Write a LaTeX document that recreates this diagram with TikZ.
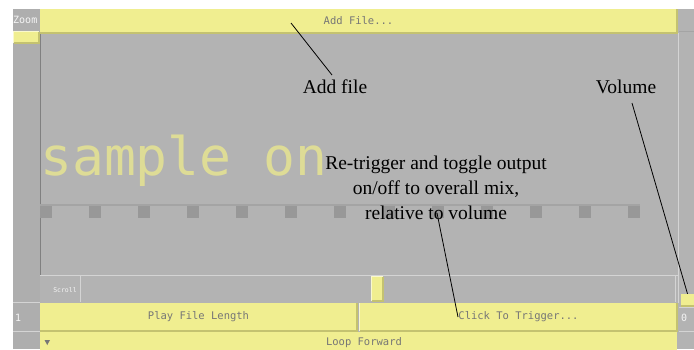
\documentclass[tikz,border=0pt]{standalone}
\usepackage{fontspec}
\setmainfont{Liberation Serif}
\newfontfamily\monof{DejaVu Sans Mono}
\definecolor{bg}{RGB}{179,179,179}
\definecolor{leftcol}{RGB}{174,174,174}
\definecolor{yel}{RGB}{240,238,144}
\definecolor{yeldark}{RGB}{196,194,112}
\definecolor{yellight}{RGB}{250,249,205}
\definecolor{samp}{RGB}{222,220,150}
\definecolor{tick}{RGB}{152,152,152}
\definecolor{tickline}{RGB}{164,164,164}
\definecolor{btntext}{RGB}{118,118,118}
\definecolor{darkedge}{RGB}{128,128,128}
\definecolor{lightedge}{RGB}{212,212,212}
\definecolor{labtext}{RGB}{245,245,245}
\begin{document}
\begin{tikzpicture}[x=1pt,y=-1pt,
  ybtn/.style={fill=yel, draw=none, inner sep=0pt, font=\monof\fontsize{10.5}{12}\selectfont, text=btntext},
  glab/.style={inner sep=0pt, font=\monof\fontsize{10}{12}\selectfont, text=labtext},
  ann/.style={inner sep=0pt, font=\fontsize{19.5}{25}\selectfont, text=black, align=center},
  lead/.style={draw=black, line width=0.8pt},
  tickbox/.style={fill=tick, draw=none, inner sep=0pt, minimum width=12pt, minimum height=12pt},
  bevdark/.style={draw=yeldark, line width=1.5pt},
  bevlight/.style={draw=yellight, line width=1pt}
]
\useasboundingbox (0,0) rectangle (694,349);
\fill[white] (0,0) rectangle (694,349);
\fill[bg] (13,9) rectangle (694,349);
\fill[leftcol] (13,9) rectangle (40,349);
% main area borders
\draw[darkedge, line width=1pt] (40.5,33) -- (40.5,275);
\draw[lightedge, line width=1pt] (678.5,33) -- (678.5,303);
\draw[tickline, line width=1pt] (679,31) -- (694,31);
\draw[lightedge, line width=1pt] (40,275.5) -- (678,275.5);
% scroll row
\draw[lightedge, line width=1pt] (80.5,276) -- (80.5,302);
\draw[lightedge, line width=1pt] (675.5,276) -- (675.5,302);
\node[inner sep=0pt, font=\monof\fontsize{6.5}{8}\selectfont, text=labtext] (scrl) at (65,290) {Scroll};
% left column
\node[glab, anchor=west] (zoomlab) at (13,20) {Zoom};
\node[ybtn, minimum width=25pt, minimum height=11pt] (zoombtn) at (26.5,37.5) {};
\draw[bevlight] (zoombtn.south west) -- (zoombtn.north west) -- (zoombtn.north east);
\draw[bevdark] (zoombtn.south west) -- (zoombtn.south east) -- (zoombtn.north east);
\draw[lightedge, line width=1pt] (13,302.5) -- (40,302.5);
\draw[lightedge, line width=1pt] (13,331) -- (40,331);
\node[glab, anchor=west] (one) at (15,318) {1};
% right column
\draw[lightedge, line width=1pt] (679,307.5) -- (694,307.5);
\draw[lightedge, line width=1pt] (679,331) -- (694,331);
\node[glab, anchor=west] (zero) at (681,318) {0};
% top button
\node[ybtn, minimum width=637pt, minimum height=24pt] (addbtn) at (358.5,21) {Add File...};
\draw[bevdark] (addbtn.south west) -- (addbtn.south east) -- (addbtn.north east);
% big text
\node[inner sep=0pt, anchor=base west, font=\monof\fontsize{53}{60}\selectfont, text=samp] (sample) at (40,175) {sample on};
% tick line
\draw[tickline, line width=1.5pt] (40,205) -- (640,205);
\foreach \i in {0,...,12}{
  \node[tickbox, anchor=north west] (tk\i) at ({40+49*\i},206) {};
}
% scroll thumb
\node[ybtn, minimum width=11pt, minimum height=24pt] (sthumb) at (377.5,289) {};
\draw[bevlight] (sthumb.south west) -- (sthumb.north west) -- (sthumb.north east);
\draw[bevdark] (sthumb.south west) -- (sthumb.south east) -- (sthumb.north east);
% volume thumb
\node[ybtn, minimum width=13pt, minimum height=12pt] (vthumb) at (687.5,300) {};
\draw[bevdark] (vthumb.south west) -- (vthumb.south east);
% bottom buttons
\node[ybtn, minimum width=317pt, minimum height=28pt] (play) at (198.5,317) {Play File Length};
\draw[bevdark] (play.south west) -- (play.south east) -- (play.north east);
\node[ybtn, minimum width=317pt, minimum height=28pt] (trig) at (518.5,317) {Click To Trigger...};
\draw[bevlight] (trig.south west) -- (trig.north west);
\draw[bevdark] (trig.south west) -- (trig.south east) -- (trig.north east);
\node[ybtn, minimum width=637pt, minimum height=18pt, anchor=north] (loopbar) at (358.5,332) {};
\node[ybtn, fill=none, anchor=center] (looptxt) at (364,343) {Loop Forward};
\fill[btntext] (44.5,340) -- (50,340) -- (47.25,345) -- cycle;
% annotations
\node[ann] (addlbl) at (335,87) {Add file};
\node[ann] (vollbl) at (626,87) {Volume};
\node[ann] (retrig) at (436,188) {Re-trigger and toggle output\\on/off to overall mix,\\relative to volume};
% leaders
\coordinate (af1) at (291,23);
\coordinate (af2) at (332,75);
\coordinate (vl1) at (632,103);
\coordinate (rt1) at (437,213);
\coordinate (rt2) at (458,317);
\draw[lead] (af1) -- (af2);
\draw[lead] (vl1) -- (vthumb.north);
\draw[lead] (rt1) -- (rt2);
\end{tikzpicture}
\end{document}
